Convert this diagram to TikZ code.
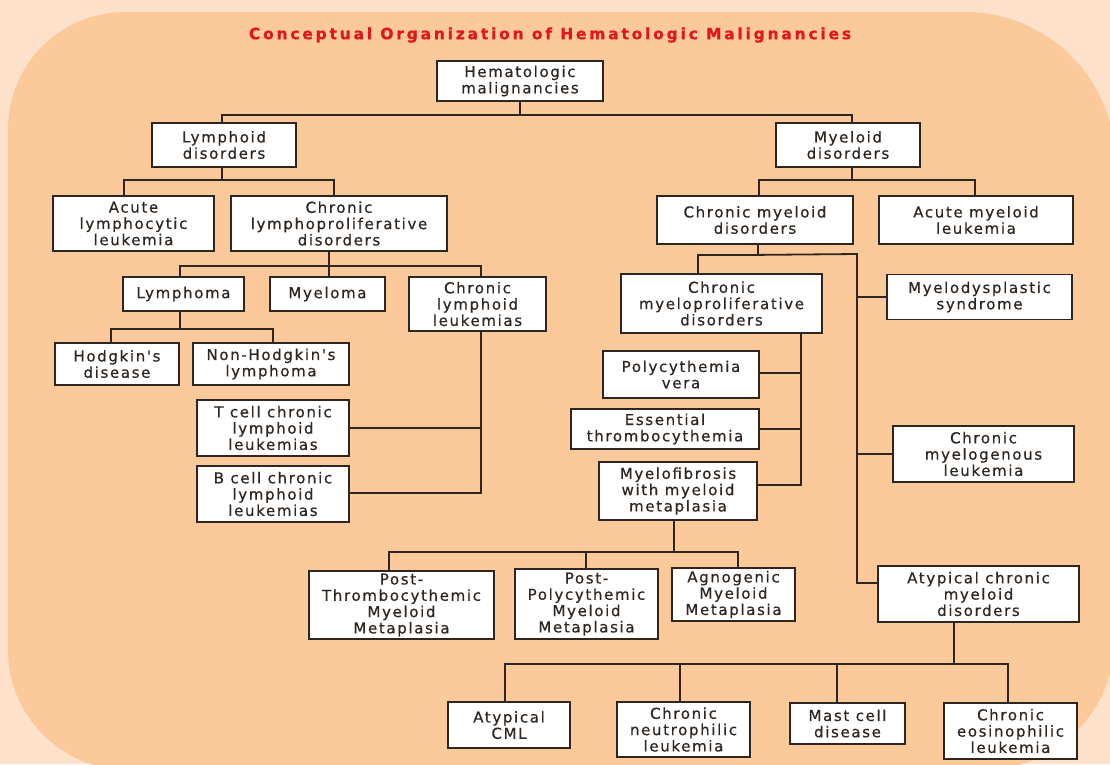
\documentclass[tikz,border=0pt]{standalone}
\usepackage{fontspec}
\newfontfamily\bxfont[LetterSpace=11,FakeBold=0.6]{DejaVu Sans}
\newfontfamily\ttlfont[LetterSpace=18,FakeBold=0.8]{DejaVu Sans}
\usetikzlibrary{calc}
\definecolor{outerbg}{HTML}{FDE1CB}
\definecolor{innerbg}{HTML}{FCC99B}
\definecolor{ttlred}{HTML}{E4151C}
\definecolor{inkc}{HTML}{2E2620}
\tikzset{
  bx/.style={draw=inkc, fill=white, line width=1.8pt, inner sep=0pt, align=center,
    font=\bxfont\fontsize{15}{16.3}\selectfont, text=inkc},
  ln/.style={draw=inkc, line width=1.8pt},
}
\begin{document}
\begin{tikzpicture}[x=1pt,y=-1pt]
\useasboundingbox (0,0) rectangle (1110,764);
\clip (0,0) rectangle (1110,764);
\fill[outerbg] (0,0) rectangle (1110,764);
\fill[innerbg] (8,650) -- (8,129)
  .. controls (8,64.4) and (60.4,12) .. (125,12)
  -- (965,12)
  .. controls (1047.8,12) and (1115,79.2) .. (1115,162)
  -- (1115,638)
  .. controls (1115,710.9) and (1055.9,770) .. (983,770)
  -- (128,770)
  .. controls (61.7,770) and (8,716.3) .. (8,650) -- cycle;

\node[font=\ttlfont\bfseries\fontsize{15.5}{17}\selectfont, text=ttlred] (title) at (550,35) {Conceptual Organization of Hematologic Malignancies};

\node[bx, minimum width=166pt, minimum height=40pt] (hm) at (520,81) {Hematologic\\malignancies};
\node[bx, minimum width=144pt, minimum height=44pt] (lym) at (224,145) {Lymphoid\\disorders};
\node[bx, minimum width=144pt, minimum height=44pt] (myl) at (848,145) {Myeloid\\disorders};
\node[bx, minimum width=161pt, minimum height=55pt] (all) at (133.5,223.5) {Acute\\lymphocytic\\leukemia};
\node[bx, minimum width=216pt, minimum height=55pt] (lcp) at (339,223.5) {Chronic\\lymphoproliferative\\disorders};
\node[bx, minimum width=196pt, minimum height=48pt] (cmd) at (755,220) {Chronic myeloid\\disorders};
\node[bx, minimum width=194pt, minimum height=48pt] (aml) at (976,220) {Acute myeloid\\leukemia};
\node[bx, minimum width=121pt, minimum height=34pt] (lyma) at (183.5,294) {Lymphoma};
\node[bx, minimum width=115pt, minimum height=34pt] (mye) at (327.5,294) {Myeloma};
\node[bx, minimum width=137pt, minimum height=54pt] (cll) at (477.5,304) {Chronic\\lymphoid\\leukemias};
\node[bx, minimum width=124pt, minimum height=42pt] (hod) at (117,364) {Hodgkin's\\disease};
\node[bx, minimum width=156pt, minimum height=42pt] (nhl) at (271,364) {Non-Hodgkin's\\lymphoma};
\node[bx, minimum width=152pt, minimum height=56pt] (tcl) at (273,428) {T cell chronic\\lymphoid\\leukemias};
\node[bx, minimum width=152pt, minimum height=56pt] (bcl) at (273,494) {B cell chronic\\lymphoid\\leukemias};
\node[bx, minimum width=201pt, minimum height=59pt] (cmpd) at (721.5,303.5) {Chronic\\myeloproliferative\\disorders};
\node[bx, minimum width=185pt, minimum height=45pt] (mds) at (979.5,297) {Myelodysplastic\\syndrome};
\node[bx, minimum width=156pt, minimum height=47pt] (pv) at (681,374.5) {Polycythemia\\vera};
\node[bx, minimum width=188pt, minimum height=40pt] (et) at (665,429) {Essential\\thrombocythemia};
\node[bx, minimum width=158pt, minimum height=58pt] (mf) at (678,491) {Myelofibrosis\\with myeloid\\metaplasia};
\node[bx, minimum width=181pt, minimum height=56pt] (cml) at (983.5,454) {Chronic\\myelogenous\\leukemia};
\node[bx, minimum width=185pt, minimum height=68pt] (ptm) at (401.5,605) {Post-\\Thrombocythemic\\Myeloid\\Metaplasia};
\node[bx, minimum width=143pt, minimum height=70pt] (ppm) at (586.5,604) {Post-\\Polycythemic\\Myeloid\\Metaplasia};
\node[bx, minimum width=123pt, minimum height=53pt] (amm) at (733.5,594.5) {Agnogenic\\Myeloid\\Metaplasia};
\node[bx, minimum width=201pt, minimum height=56pt] (acmd) at (978.5,594) {Atypical chronic\\myeloid\\disorders};
\node[bx, minimum width=122pt, minimum height=46pt] (acml) at (509,725) {Atypical\\CML};
\node[bx, minimum width=133pt, minimum height=55pt] (cnl) at (683.5,729.5) {Chronic\\neutrophilic\\leukemia};
\node[bx, minimum width=115pt, minimum height=41pt] (mast) at (847.5,723.5) {Mast cell\\disease};
\node[bx, minimum width=133pt, minimum height=56pt] (cel) at (1010.5,731) {Chronic\\eosinophilic\\leukemia};

% connectors
\draw[ln] (hm.south) -- ++(0,13) coordinate (j1) -| ([xshift=-2pt]lym.north);
\draw[ln] (j1) -| ([xshift=4pt]myl.north);

\draw[ln] ([xshift=-2pt]lym.south) -- ++(0,12) coordinate (j2) -| ([xshift=-9.5pt]all.north);
\draw[ln] (j2) -| ([xshift=-5pt]lcp.north);

\draw[ln] ([xshift=4pt]myl.south) -- ++(0,12) coordinate (j3) -| ([xshift=4pt]cmd.north);
\draw[ln] (j3) -| ([xshift=-1pt]aml.north);

\draw[ln] ([xshift=-10pt]lcp.south) -- ++(0,14) coordinate (j4) -| ([xshift=-3.5pt]lyma.north);
\draw[ln] (j4) -- (mye.north -| j4);
\draw[ln] (j4) -| ([xshift=3.5pt]cll.north);

\draw[ln] ([xshift=-3.5pt]lyma.south) -- ++(0,17) coordinate (j5) -| ([xshift=-6pt]hod.north);
\draw[ln] (j5) -| ([xshift=2pt]nhl.north);

\coordinate (cllb) at ([xshift=3.5pt]cll.south);
\draw[ln] (cllb) |- ([yshift=1pt]bcl.east);
\draw[ln] (tcl.east) -- (tcl.east -| cllb);

\draw[ln] ([xshift=3pt]cmd.south) -- ++(0,10) coordinate (j7) -| ([xshift=-23.5pt]cmpd.north);
\coordinate (vr) at (857,254);
\draw[ln] (j7) -- (vr) |- ([yshift=11pt]acmd.west);
\draw[ln] (mds.west) -- (mds.west -| vr);
\draw[ln] (cml.west) -- (cml.west -| vr);

\coordinate (cmpdb) at ([xshift=79.5pt]cmpd.south);
\draw[ln] (cmpdb) |- ([yshift=6pt]mf.east);
\draw[ln] ([yshift=1.5pt]pv.east) -- ([yshift=1.5pt]pv.east -| cmpdb);
\draw[ln] (et.east) -- (et.east -| cmpdb);

\draw[ln] ([xshift=-4pt]mf.south) -- ++(0,31) coordinate (j9) -| ([xshift=-12.5pt]ptm.north);
\draw[ln] (j9) -| ([xshift=-0.5pt]ppm.north);
\draw[ln] (j9) -| ([xshift=4.5pt]amm.north);

\draw[ln] ([xshift=-24.5pt]acmd.south) -- ++(0,41) coordinate (j10) -| ([xshift=-4pt]acml.north);
\draw[ln] (j10) -| ([xshift=-3.5pt]cnl.north);
\draw[ln] (j10) -| ([xshift=-10.5pt]mast.north);
\draw[ln] (j10) -| ([xshift=-2.5pt]cel.north);
\end{tikzpicture}
\end{document}
